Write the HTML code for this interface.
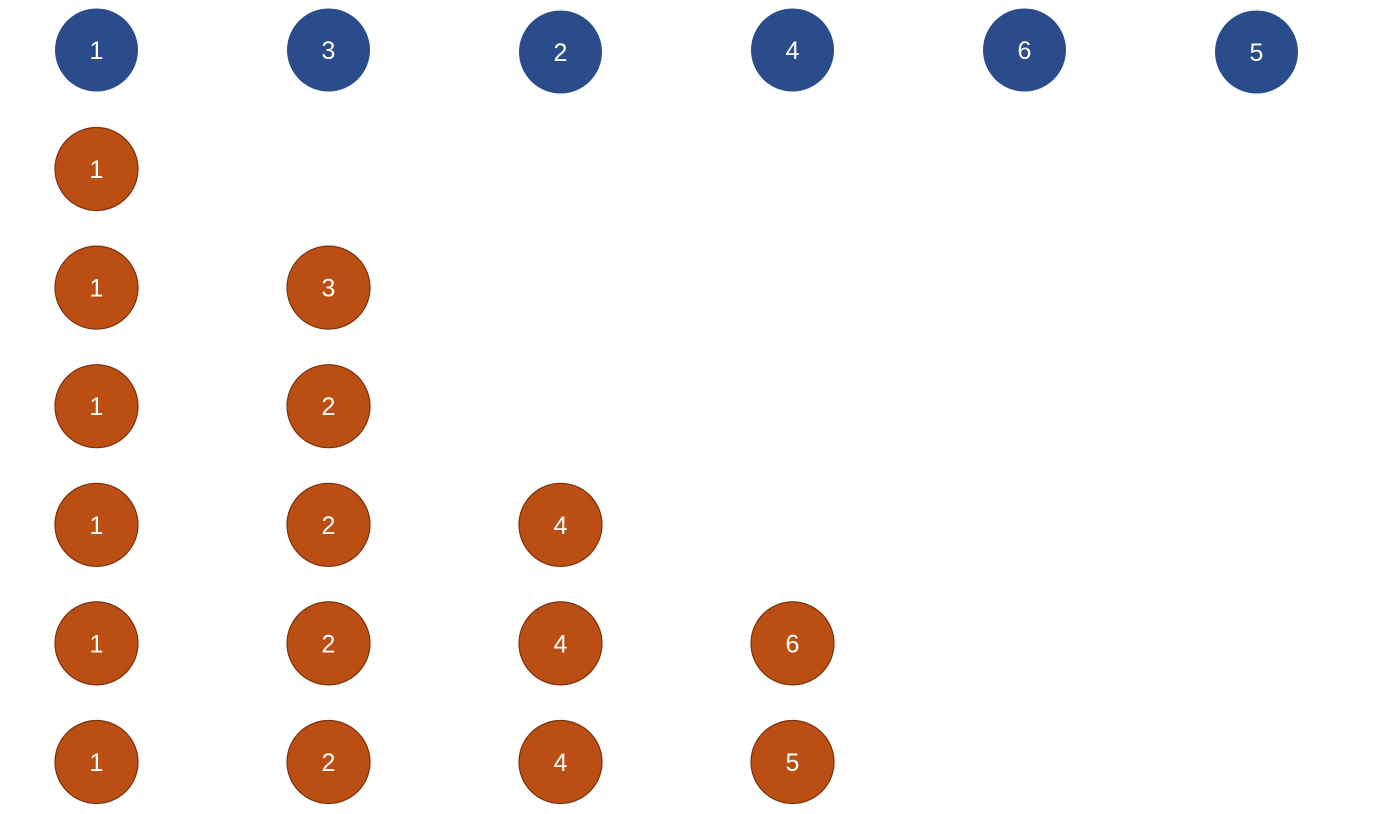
<!DOCTYPE html>
<html><head><meta charset="utf-8"><style>
html,body{margin:0;padding:0;background:#fff;}
svg{display:block;}
text{font-family:"Liberation Sans",sans-serif;font-size:25px;fill:#fff;text-anchor:middle;dominant-baseline:central;}
</style></head><body>
<svg id="chart" width="1381" height="814" viewBox="0 0 1381 814"></svg>
<script>
const topValues = [1, 3, 2, 4, 6, 5];
const rowValues = [
  [1],
  [1, 3],
  [1, 2],
  [1, 2, 4],
  [1, 2, 4, 6],
  [1, 2, 4, 5]
];
const svg = document.getElementById('chart');
const NS = 'http://www.w3.org/2000/svg';
const x = i => 96.5 + i * 232;
const yTop = i => (i === 2 || i === 5) ? 52 : 50;
const yRow = r => 169 + r * 118.6;
function circle(cx, cy, val, fill, stroke, name) {
  const g = document.createElementNS(NS, 'g');
  
  
  const c = document.createElementNS(NS, 'circle');
  c.setAttribute('cx', cx); c.setAttribute('cy', cy); c.setAttribute('r', 41.5);
  c.setAttribute('fill', fill);
  if (stroke) { c.setAttribute('stroke', stroke); c.setAttribute('stroke-width', 1.2); }
  
  
  const t = document.createElementNS(NS, 'text');
  t.setAttribute('x', cx); t.setAttribute('y', cy + 1);
  t.textContent = val;
  
  
  g.appendChild(c); g.appendChild(t); svg.appendChild(g);
}
topValues.forEach((v, i) => circle(x(i), yTop(i), v, '#2a4c8b', null, 'input-node-' + i));
rowValues.forEach((row, r) => row.forEach((v, i) => circle(x(i), yRow(r), v, '#bb4f13', '#7a3210', 'row-' + r + '-node-' + i)));
</script>
</body></html>
